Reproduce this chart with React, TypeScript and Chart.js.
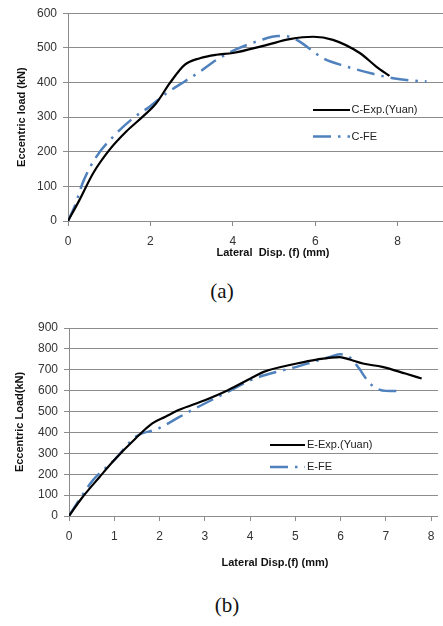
import React, { useEffect, useRef } from "react";
import { Chart, registerables } from "chart.js";
Chart.register(...registerables);

const FONT = "'Liberation Sans', Arial, sans-serif";
const BLUE = "#4f81bd";
const GRID = "#8c8c8c";

// ---- Chart (a) data ----
const aExpX = [0, 0.28, 0.61, 1.01, 1.42, 1.82, 2.14, 2.47, 2.83, 3.2, 3.6, 4.0, 4.81, 5.38, 5.95, 6.43, 7.08, 7.48, 7.8];
const aExpY = [0, 61, 138, 206, 259, 302, 340, 398, 451, 470, 480, 485, 508, 525, 532, 523, 485, 446, 419];
const aFeX = [0, 0.16, 0.37, 0.69, 1.1, 1.58, 1.98, 2.39, 2.83, 3.2, 3.6, 4.09, 4.65, 5.1, 5.38, 5.62, 6.19, 6.76, 7.4, 7.89, 8.29, 8.7];
const aFeY = [0, 42, 114, 186, 244, 297, 330, 369, 403, 431, 465, 496, 521, 534, 532, 518, 470, 446, 425, 412, 406, 403];
const aLabels = ["C-Exp.(Yuan)", "C-FE"];

// ---- Chart (b) data ----
const bExpX = [0, 0.28, 0.68, 1.0, 1.47, 1.84, 2.13, 2.42, 3.0, 3.51, 4.01, 4.3, 5.03, 5.47, 5.98, 6.2, 6.49, 6.92, 7.43, 7.79];
const bExpY = [0, 85, 188, 268, 371, 443, 475, 507, 554, 602, 658, 690, 730, 749, 761, 749, 730, 714, 682, 658];
const bFeX = [0, 0.25, 0.53, 1.0, 1.47, 1.98, 2.42, 2.86, 3.44, 4.01, 4.45, 5.03, 5.47, 5.76, 5.98, 6.08, 6.23, 6.41, 6.56, 6.74, 7.0, 7.36];
const bFeY = [0, 85, 172, 268, 379, 419, 472, 523, 587, 650, 682, 714, 743, 761, 774, 772, 754, 706, 658, 618, 599, 598];
const bLabels = ["E-Exp.(Yuan)", "E-FE"];

const toPts = (xs: number[], ys: number[]) => xs.map((x, i) => ({ x, y: ys[i] }));

const insideLegend = {
  id: "insideLegend",
  afterDraw(chart: any, _args: any, opts: any) {
    const ctx = chart.ctx;
    ctx.save();
    chart.data.datasets.forEach((ds: any, i: number) => {
      const y = opts.top + i * opts.rowGap;
      ctx.beginPath();
      ctx.setLineDash(ds.borderDash || []);
      ctx.lineWidth = ds.borderWidth;
      ctx.strokeStyle = ds.borderColor;
      ctx.lineCap = "butt";
      ctx.moveTo(opts.left, y);
      ctx.lineTo(opts.left + opts.sampleWidth, y);
      ctx.stroke();
      ctx.setLineDash([]);
      ctx.fillStyle = "#222";
      ctx.font = `11px ${FONT}`;
      ctx.textBaseline = "middle";
      ctx.textAlign = "left";
      ctx.fillText(ds.label, opts.left + opts.sampleWidth + opts.textGap, y);
    });
    ctx.restore();
  },
};

const xTitle = {
  id: "xTitle",
  afterDraw(chart: any, _args: any, opts: any) {
    const ctx = chart.ctx;
    ctx.save();
    ctx.fillStyle = "#111";
    ctx.font = `bold 11px ${FONT}`;
    ctx.textAlign = "center";
    ctx.textBaseline = "middle";
    ctx.fillText(opts.text, opts.x, opts.y);
    ctx.restore();
  },
};

function makeConfig(p: any) {
  return {
    type: "line",
    data: {
      datasets: [
        {
          label: p.labels[0],
          data: toPts(p.expX, p.expY),
          borderColor: "#000",
          borderWidth: 2.2,
          pointRadius: 0,
          cubicInterpolationMode: "monotone",
          fill: false,
        },
        {
          label: p.labels[1],
          data: toPts(p.feX, p.feY),
          borderColor: BLUE,
          borderWidth: 2.5,
          borderDash: [18, 7, 2.5, 7],
          pointRadius: 0,
          cubicInterpolationMode: "monotone",
          fill: false,
        },
      ],
    },
    options: {
      responsive: false,
      animation: false,
      events: [],
      layout: { padding: { top: p.padTop, left: 0, right: 0, bottom: 0 } },
      plugins: {
        legend: { display: false },
        tooltip: { enabled: false },
        insideLegend: p.legend,
        xTitle: p.xTitle,
      },
      scales: {
        x: {
          type: "linear",
          min: 0,
          max: p.xMax,
          afterFit: (s: any) => { s.height = p.xAxisHeight; },
          ticks: {
            stepSize: p.xStep,
            includeBounds: false,
            padding: 8.5,
            color: "#333",
            font: { family: FONT, size: 12 },
            maxRotation: 0,
          },
          grid: { drawOnChartArea: false, drawTicks: true, tickLength: 5, color: GRID },
          border: { display: true, color: GRID },
        },
        y: {
          min: 0,
          max: p.yMax,
          afterFit: (s: any) => { s.width = p.yAxisWidth; },
          ticks: {
            stepSize: 100,
            padding: 6,
            color: "#333",
            font: { family: FONT, size: 12 },
          },
          grid: { color: GRID, tickLength: 5 },
          border: { display: true, color: GRID },
          title: {
            display: true,
            text: p.yTitle,
            color: "#111",
            font: { family: FONT, size: 11, weight: "bold" },
            padding: { top: p.yTitlePad, bottom: 0 },
          },
        },
      },
    },
    plugins: [insideLegend, xTitle],
  };
}

function Panel({ cfg, width, height, top }: any) {
  const ref = useRef<HTMLCanvasElement>(null);
  useEffect(() => {
    const chart = new Chart(ref.current as HTMLCanvasElement, cfg);
    return () => chart.destroy();
  }, []);
  return (
    <canvas
      ref={ref}
      width={width}
      height={height}
      style={{ position: "absolute", left: 0, top, width, height }}
    />
  );
}

const cfgA = makeConfig({
  expX: aExpX, expY: aExpY, feX: aFeX, feY: aFeY, labels: aLabels,
  padTop: 13, xMax: 9.1, xStep: 2, xAxisHeight: 41, yMax: 600, yAxisWidth: 68,
  yTitle: "Eccentric load (kN)", yTitlePad: 15.4,
  legend: { left: 313, top: 110, rowGap: 26.5, sampleWidth: 37, textGap: 1.5 },
  xTitle: { text: "Lateral  Disp. (f) (mm)", x: 273, y: 253 },
});

const cfgB = makeConfig({
  expX: bExpX, expY: bExpY, feX: bFeX, feY: bFeY, labels: bLabels,
  padTop: 28, xMax: 8.15, xStep: 1, xAxisHeight: 59, yMax: 900, yAxisWidth: 69,
  yTitle: "Eccentric Load(kN)", yTitlePad: 13.4,
  legend: { left: 270, top: 145, rowGap: 22, sampleWidth: 35, textGap: 2 },
  xTitle: { text: "Lateral Disp.(f) (mm)", x: 275, y: 263.3 },
});

const capStyle: React.CSSProperties = {
  position: "absolute",
  width: 100,
  textAlign: "center",
  fontFamily: "'Liberation Serif', 'DejaVu Serif', serif",
  fontSize: 21,
  lineHeight: "24px",
  color: "#111",
};

export default function App() {
  return (
    <div style={{ position: "absolute", left: 0, top: 0, width: 443, height: 626, background: "#fff", overflow: "hidden" }}>
      <Panel cfg={cfgA} width={443} height={262} top={0} />
      <div style={{ ...capStyle, left: 172, top: 279 }}>(a)</div>
      <Panel cfg={cfgB} width={443} height={275} top={300} />
      <div style={{ ...capStyle, left: 177, top: 593 }}>(b)</div>
    </div>
  );
}
